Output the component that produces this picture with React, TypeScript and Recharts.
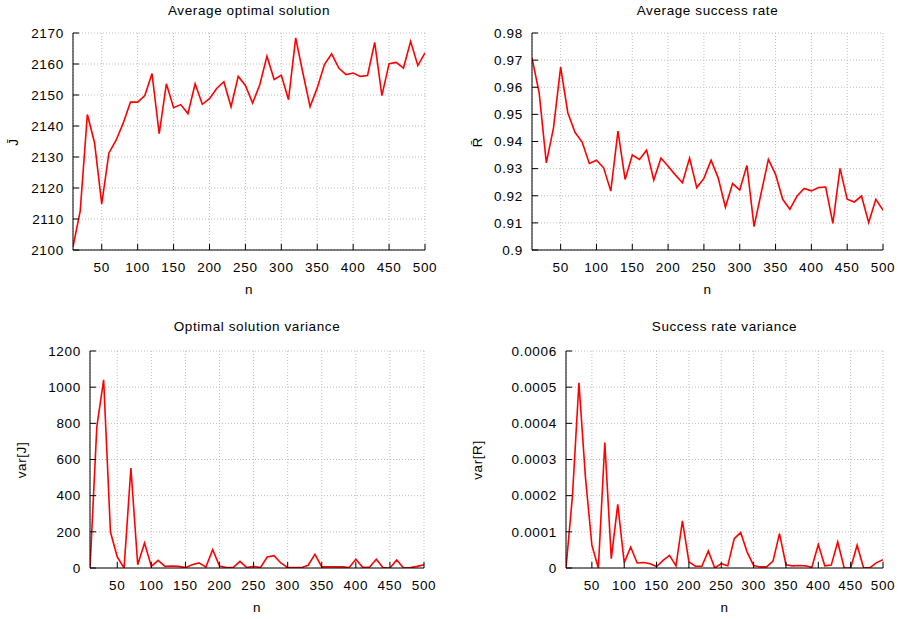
import React from 'react';
import { LineChart, Line, XAxis, YAxis, CartesianGrid } from 'recharts';

const nValues = [
  10, 20, 30, 40, 50, 60, 70, 80, 90, 100,
  110, 120, 130, 140, 150, 160, 170, 180, 190, 200,
  210, 220, 230, 240, 250, 260, 270, 280, 290, 300,
  310, 320, 330, 340, 350, 360, 370, 380, 390, 400,
  410, 420, 430, 440, 450, 460, 470, 480, 490, 500,
];

const avgJ = [
  2101, 2112.5, 2143.7, 2134.6, 2114.9, 2131.3, 2135.4, 2141, 2147.7, 2147.7,
  2149.8, 2156.9, 2137.5, 2153.6, 2145.9, 2146.9, 2144, 2153.6, 2147, 2148.8,
  2152.1, 2154.3, 2146.2, 2156, 2153.1, 2147.4, 2153.3, 2162.5, 2155, 2156.4,
  2148.5, 2168.4, 2157.1, 2146.2, 2152.3, 2159.8, 2163.3, 2158.7, 2156.6, 2157.1,
  2156, 2156.3, 2167, 2149.8, 2160.1, 2160.5, 2158.7, 2167.3, 2159.5, 2163.6,
];

const avgR = [
  0.9708, 0.9579, 0.9321, 0.945, 0.9674, 0.9506, 0.9434, 0.9398, 0.9319, 0.9331,
  0.9303, 0.9217, 0.9438, 0.926, 0.935, 0.9334, 0.9368, 0.9258, 0.9339, 0.9309,
  0.9277, 0.9248, 0.9339, 0.923, 0.9264, 0.9331, 0.9265, 0.9158, 0.9245, 0.9221,
  0.9312, 0.9086, 0.9211, 0.9334, 0.9279, 0.9187, 0.915, 0.9199, 0.9227, 0.9218,
  0.923, 0.9232, 0.9098, 0.9301, 0.9187, 0.9177, 0.9199, 0.9101, 0.9187, 0.9147,
];

const varJ = [
  0, 780, 1041, 199, 61, 0, 553, 18, 138, 9,
  42, 9, 11, 9, 2, 18, 28, 5, 101, 11,
  2, 2, 37, 2, 9, 2, 61, 68, 28, 2,
  2, 2, 15, 76, 6, 6, 7, 6, 2, 48,
  4, 4, 48, 2, 0, 44, 0, 2, 9, 18,
];

const varR = [
  0, 0.0002, 0.000512, 0.000252, 0.000063, 0, 0.000347, 0.000026, 0.000176, 0.000015,
  0.000058, 0.000014, 0.000015, 0.000012, 0.000004, 0.000021, 0.000035, 0.000006, 0.00013, 0.000017,
  0.000005, 0.000005, 0.000047, 0, 0.000012, 0.000006, 0.000081, 0.000098, 0.000044, 0.000007,
  0.000003, 0.000003, 0.000019, 0.000095, 0.000009, 0.000006, 0.000007, 0.000006, 0.000002, 0.000065,
  0.000006, 0.000008, 0.000072, 0, 0, 0.000063, 0, 0.000001, 0.000015, 0.000023,
];

const xTicks = [50, 100, 150, 200, 250, 300, 350, 400, 450, 500];
const jTicks = [2100, 2110, 2120, 2130, 2140, 2150, 2160, 2170];
const rTicks = [0.9, 0.91, 0.92, 0.93, 0.94, 0.95, 0.96, 0.97, 0.98];
const varJTicks = [0, 200, 400, 600, 800, 1000, 1200];
const varRTicks = [0, 0.0001, 0.0002, 0.0003, 0.0004, 0.0005, 0.0006];

const FONT = '"Liberation Sans", Arial, Helvetica, sans-serif';
const tickStyle = { fill: '#000', fontSize: 13.5, fontFamily: FONT, letterSpacing: 0.7 };

interface PanelProps {
  left: number;
  top: number;
  width: number;
  height: number;
  values: number[];
  yTicks: number[];
  yWidth: number;
  xHeight: number;
  marginTop: number;
  marginRight: number;
  title: string;
  yLabel: string;
  titleY: number;
  yLabelX: number;
  xLabelY: number;
}

const Panel: React.FC<PanelProps> = (p) => {
  const data = nValues.map((n, i) => ({ n, v: p.values[i] }));
  const plotLeft = p.left + p.yWidth;
  const plotRight = p.left + p.width - p.marginRight;
  const plotTop = p.top + p.marginTop;
  const plotBottom = p.top + p.height - p.xHeight;
  const cx = (plotLeft + plotRight) / 2;
  const cy = (plotTop + plotBottom) / 2;
  const label: React.CSSProperties = {
    position: 'absolute',
    fontFamily: FONT,
    fontSize: 13.5,
    letterSpacing: 0.6,
    color: '#000',
    whiteSpace: 'nowrap',
    lineHeight: 1,
  };
  return (
    <>
      <div style={{ position: 'absolute', left: p.left, top: p.top }}>
        <LineChart
          width={p.width}
          height={p.height}
          data={data}
          margin={{ top: p.marginTop, right: p.marginRight, bottom: 0, left: 0 }}
        >
          <CartesianGrid xAxisId="b" yAxisId="l" stroke="#bdbdbd" strokeDasharray="1 2" />
          <XAxis
            xAxisId="b"
            dataKey="n"
            type="number"
            domain={[10, 500]}
            ticks={xTicks}
            interval={0}
            allowDataOverflow
            height={p.xHeight}
            stroke="#000"
            tickSize={-6}
            tickMargin={18}
            tick={tickStyle}
          />
          <XAxis
            xAxisId="t"
            orientation="top"
            dataKey="n"
            type="number"
            domain={[10, 500]}
            ticks={xTicks}
            interval={0}
            allowDataOverflow
            height={0}
            stroke="#000"
            tickSize={-6}
            tick={false}
          />
          <YAxis
            yAxisId="l"
            type="number"
            domain={[p.yTicks[0], p.yTicks[p.yTicks.length - 1]]}
            ticks={p.yTicks}
            interval={0}
            allowDataOverflow
            width={p.yWidth}
            stroke="#000"
            tickSize={-6}
            tickMargin={15}
            tick={tickStyle}
          />
          <YAxis
            yAxisId="r"
            orientation="right"
            type="number"
            domain={[p.yTicks[0], p.yTicks[p.yTicks.length - 1]]}
            ticks={p.yTicks}
            interval={0}
            allowDataOverflow
            width={0}
            stroke="#000"
            tickSize={-6}
            tick={false}
          />
          <Line
            xAxisId="b"
            yAxisId="l"
            type="linear"
            dataKey="v"
            stroke="#ff0000"
            strokeWidth={1.6}
            dot={false}
            isAnimationActive={false}
          />
        </LineChart>
      </div>
      <div style={{ ...label, left: cx, top: p.titleY, transform: 'translate(-50%, -50%)' }}>{p.title}</div>
      <div style={{ ...label, left: cx, top: p.xLabelY, transform: 'translate(-50%, -50%)' }}>n</div>
      <div style={{ ...label, left: p.yLabelX, top: cy, transform: 'translate(-50%, -50%) rotate(-90deg)' }}>
        {p.yLabel}
      </div>
    </>
  );
};

export default function App() {
  return (
    <div style={{ position: 'absolute', left: 0, top: 0, width: 900, height: 619, background: '#fff' }}>
      <Panel
        left={0} top={0} width={450} height={310}
        values={avgJ} yTicks={jTicks} yWidth={73} xHeight={60} marginTop={33} marginRight={25}
        title="Average optimal solution" yLabel={'J\u0304'} titleY={11} yLabelX={14} xLabelY={290}
      />
      <Panel
        left={450} top={0} width={450} height={310}
        values={avgR} yTicks={rTicks} yWidth={82} xHeight={60} marginTop={33} marginRight={17}
        title="Average success rate" yLabel={'R\u0304'} titleY={11} yLabelX={478} xLabelY={290}
      />
      <Panel
        left={0} top={310} width={450} height={309}
        values={varJ} yTicks={varJTicks} yWidth={90} xHeight={51} marginTop={41} marginRight={26}
        title="Optimal solution variance" yLabel="var[J]" titleY={327} yLabelX={22} xLabelY={608}
      />
      <Panel
        left={450} top={310} width={450} height={309}
        values={varR} yTicks={varRTicks} yWidth={116} xHeight={51} marginTop={41} marginRight={17}
        title="Success rate variance" yLabel="var[R]" titleY={327} yLabelX={478} xLabelY={608}
      />
    </div>
  );
}
